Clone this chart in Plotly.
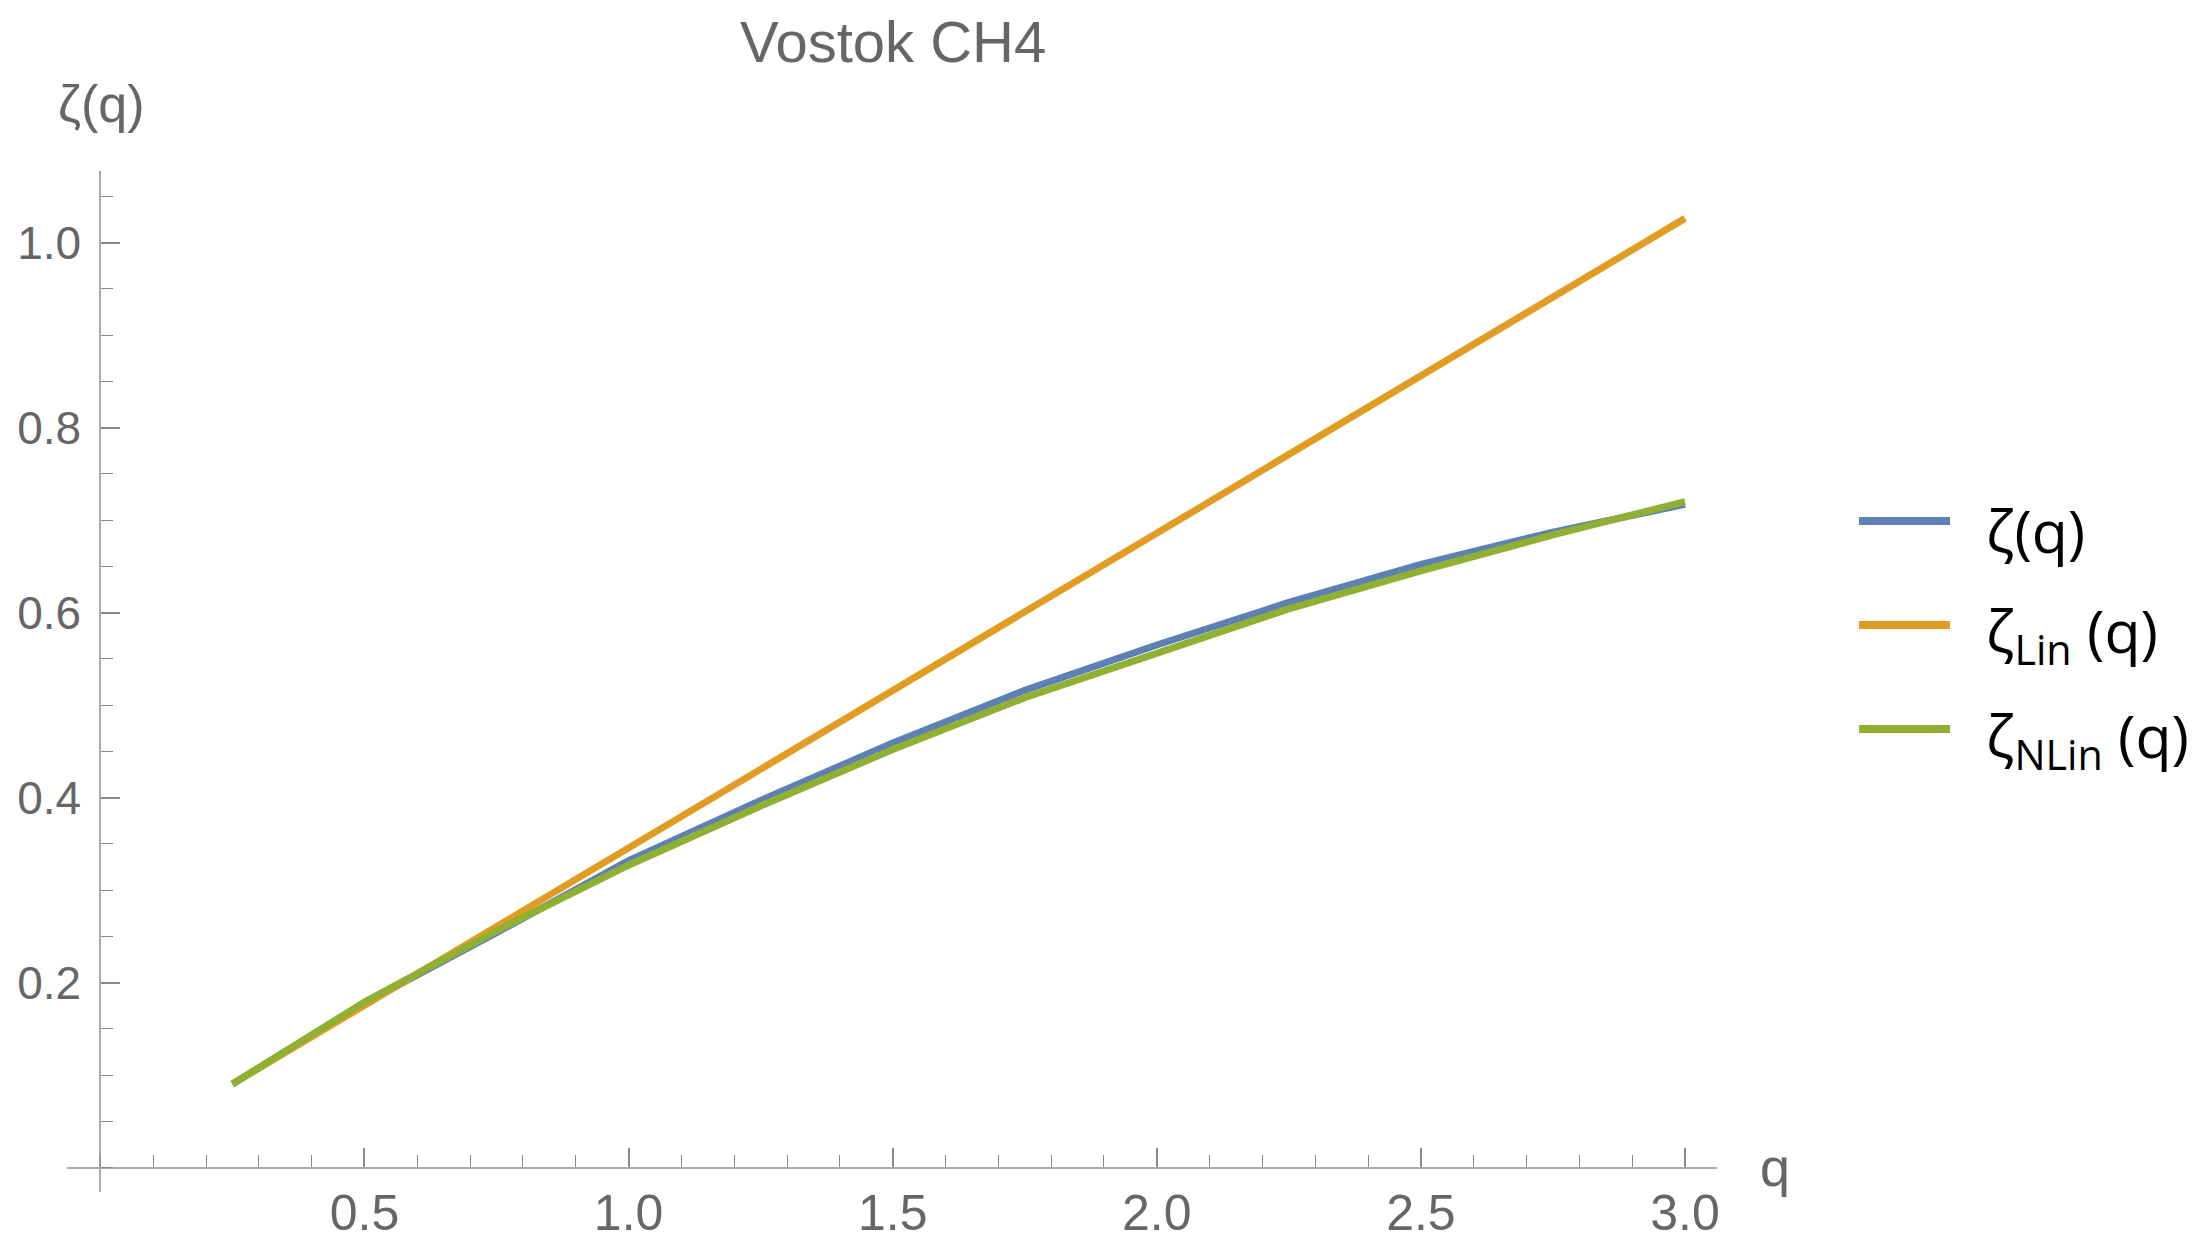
import plotly.graph_objects as go

# ---- data ----
q = [0.25, 0.5, 0.75, 1.0, 1.25, 1.5, 1.75, 2.0, 2.25, 2.5, 2.75, 3.0]
zeta = [0.0905, 0.178, 0.254, 0.332, 0.397, 0.459, 0.516, 0.565, 0.611, 0.652, 0.687, 0.717]
zeta_lin = [0.0905, 0.1756, 0.2607, 0.3457, 0.4308, 0.5158, 0.6009, 0.6859, 0.7710, 0.8560, 0.9411, 1.0261]
zeta_nlin = [0.0905, 0.179, 0.256, 0.327, 0.391, 0.452, 0.508, 0.556, 0.604, 0.645, 0.684, 0.720]

x_tickvals = [0.5, 1.0, 1.5, 2.0, 2.5, 3.0]
x_ticktext = ["0.5", "1.0", "1.5", "2.0", "2.5", "3.0"]
y_tickvals = [0.2, 0.4, 0.6, 0.8, 1.0]
y_ticktext = ["0.2", "0.4", "0.6", "0.8", "1.0"]

series_names = ["ζ(q)", "ζ<sub>Lin</sub> (q)", "ζ<sub>NLin</sub> (q)"]
series_colors = ["#5E81B5", "#E19C24", "#8FB032"]
title_text = "Vostok CH4"
x_label = "q"
y_label = "ζ(q)"

W, H = 2198, 1240
def px(x):
    return x / W
def py(y):
    return 1 - y / H

NARROW = "Liberation Sans Narrow, Arial Narrow, Liberation Sans, Arial, sans-serif"
SANS = "Liberation Sans, Arial, sans-serif"
LEG = "Open Sans, Noto Sans, DejaVu Sans, sans-serif"
LABEL = "#666666"
AXIS = "#aaaaaa"
TICK = "#8a8a8a"

fig = go.Figure()
for ys, name, col in zip([zeta, zeta_lin, zeta_nlin], series_names, series_colors):
    fig.add_trace(go.Scatter(x=q, y=ys, mode="lines", name=name,
                             line=dict(color=col, width=7), showlegend=False))

x_range = [-0.0632, 3.0606]
y_range = [-0.0258, 1.0773]
x_dom = [px(67), px(1717)]
y_dom = [py(1191.6), py(171)]

fig.update_layout(
    width=W, height=H,
    margin=dict(l=0, r=0, t=0, b=0, autoexpand=False),
    paper_bgcolor="white", plot_bgcolor="white",
    xaxis=dict(domain=x_dom, range=x_range, anchor="free", position=py(1167.7),
               automargin=False,
               showgrid=False, zeroline=False, showline=True, linecolor=AXIS, linewidth=2,
               tickmode="array", tickvals=x_tickvals, ticktext=x_ticktext,
               ticks="inside", ticklen=19, tickwidth=1.5, tickcolor=TICK,
               tickfont=dict(family=NARROW, size=50, color=LABEL), ticklabelstandoff=1,
               minor=dict(ticks="inside", ticklen=12, tickwidth=1.3, tickcolor=TICK,
                          dtick=0.1, tick0=0, showgrid=False)),
    yaxis=dict(domain=y_dom, range=y_range, anchor="free", position=px(100.4),
               automargin=False,
               showgrid=False, zeroline=False, showline=True, linecolor=AXIS, linewidth=2,
               tickmode="array", tickvals=y_tickvals, ticktext=y_ticktext,
               ticks="inside", ticklen=19, tickwidth=1.5, tickcolor=TICK,
               tickfont=dict(family=SANS, size=46, color=LABEL), ticklabelstandoff=9,
               minor=dict(ticks="inside", ticklen=12, tickwidth=1.3, tickcolor=TICK,
                          dtick=0.05, tick0=0, showgrid=False)),
    showlegend=False,
)

annotations = [
    dict(text=title_text, x=px(893), y=py(41), xref="paper", yref="paper",
         xanchor="center", yanchor="middle", showarrow=False,
         font=dict(family=NARROW, size=58, color=LABEL)),
    dict(text=y_label, x=px(101), y=py(104), xref="paper", yref="paper",
         xanchor="center", yanchor="middle", showarrow=False,
         font=dict(family=NARROW, size=52, color=LABEL)),
    dict(text=x_label, x=px(1758), y=py(1167), xref="paper", yref="paper",
         xanchor="left", yanchor="middle", showarrow=False,
         font=dict(family=NARROW, size=54, color=LABEL)),
]
shapes = []
leg_y = [521, 625, 729]
for name, col, ly in zip(series_names, series_colors, leg_y):
    shapes.append(dict(type="line", xref="paper", yref="paper",
                       x0=px(1859), x1=px(1950), y0=py(ly), y1=py(ly),
                       line=dict(color=col, width=8)))
    annotations.append(dict(text=name, x=px(1984), y=py(ly + 9), xref="paper", yref="paper",
                            xanchor="left", yanchor="middle", showarrow=False,
                            font=dict(family=LEG, size=59, color="black")))
fig.update_layout(annotations=annotations, shapes=shapes)

fig.write_html("out.html", config={"displayModeBar": False},
               post_script="document.body.style.margin='0';")
